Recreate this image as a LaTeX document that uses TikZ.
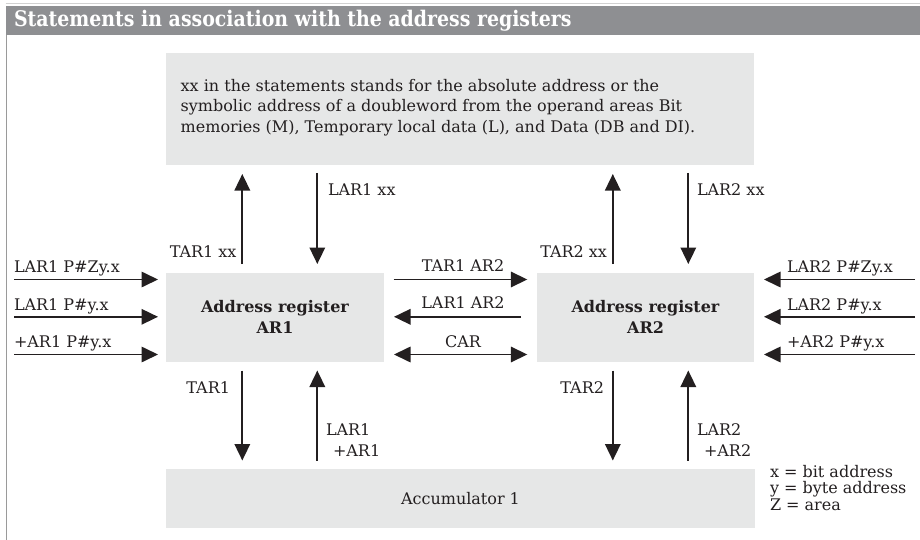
\documentclass[tikz,border=0pt]{standalone}
\usepackage{fontspec}
\setmainfont{DejaVu Serif}
\newfontfamily\titlefont[FakeStretch=0.88]{DejaVu Serif}
\usetikzlibrary{arrows.meta,calc}
\definecolor{boxgray}{HTML}{E6E7E7}
\definecolor{bargray}{HTML}{8E8F92}
\definecolor{linegray}{HTML}{9A9A9A}
\definecolor{toplinegray}{HTML}{D2D2D2}
\definecolor{ink}{HTML}{231F20}
\begin{document}
\begin{tikzpicture}[x=1pt,y=-1pt,
  every node/.style={font=\fontsize{16}{20.7}\selectfont, text=ink, inner sep=0pt, outer sep=0pt},
  regbox/.style={fill=boxgray, draw=none, inner sep=0pt},
  arr/.style={draw=ink, line width=1.7pt, -{Triangle[length=16.5pt,width=15.5pt]}},
  darr/.style={draw=ink, line width=1.7pt, {Triangle[length=16.5pt,width=15.5pt]}-{Triangle[length=16.5pt,width=15.5pt]}},
  boldtxt/.style={font=\bfseries\fontsize{16}{20.5}\selectfont, align=center}]
\useasboundingbox (0,0) rectangle (920,540);
% header
\draw[toplinegray, line width=1pt] (5.5,4) -- (920,4);
\fill[bargray] (5.5,6) rectangle (920,35);
\node[anchor=west, text=white, font=\titlefont\bfseries\fontsize{21.5}{24}\selectfont] (title) at (14,20.5) {Statements in association with the address registers};
\draw[linegray, line width=1.3pt] (6.5,35) -- (6.5,540);

% boxes
\node[regbox, minimum width=588pt, minimum height=112pt] (mem) at (460,109) {};
\node[anchor=west, align=left] (memtext) at ($(mem.west)+(14.7,-1.6)$) {xx in the statements stands for the absolute address or the\\symbolic address of a doubleword from the operand areas Bit\\memories (M), Temporary local data (L), and Data (DB and DI).};
\node[regbox, boldtxt, minimum width=218pt, minimum height=89pt] (ar1) at (275,317) {Address register\\AR1};
\node[regbox, boldtxt, minimum width=217pt, minimum height=89pt] (ar2) at (645.5,317) {Address register\\AR2};
\node[regbox, minimum width=589pt, minimum height=59pt] (acc) at (460.5,498.5) {Accumulator 1};

% column coordinates
\coordinate (xa) at (242.3,0);
\coordinate (xb) at (317.3,0);
\coordinate (xc) at (612.8,0);
\coordinate (xd) at (688.3,0);

% top vertical arrows
\draw[arr, shorten <=8.5pt, shorten >=9pt] (xa |- ar1.north) -- (xa |- mem.south);
\draw[arr, shorten <=8pt, shorten >=8.5pt] (xb |- mem.south) -- (xb |- ar1.north);
\draw[arr, shorten <=8.5pt, shorten >=9pt] (xc |- ar2.north) -- (xc |- mem.south);
\draw[arr, shorten <=8pt, shorten >=8.5pt] (xd |- mem.south) -- (xd |- ar2.north);
\node[anchor=base east] (tar1xx) at (236.5,257) {TAR1 xx};
\node[anchor=base west] (lar1xx) at (328,196) {LAR1 xx};
\node[anchor=base east] (tar2xx) at (607,257) {TAR2 xx};
\node[anchor=base west] (lar2xx) at (697,196) {LAR2 xx};

% lower vertical arrows
\draw[arr, shorten <=9pt, shorten >=8.5pt] (xa |- ar1.south) -- (xa |- acc.north);
\draw[arr, shorten <=8.5pt, shorten >=9pt] (xb |- acc.north) -- (xb |- ar1.south);
\draw[arr, shorten <=9pt, shorten >=8.5pt] (xc |- ar2.south) -- (xc |- acc.north);
\draw[arr, shorten <=8.5pt, shorten >=9pt] (xd |- acc.north) -- (xd |- ar2.south);
\node[anchor=base east] (tar1) at (230,393) {TAR1};
\node[anchor=base west] (lar1) at (326,435) {LAR1};
\node[anchor=base west] (addar1) at (333,456.5) {+AR1};
\node[anchor=base east] (tar2) at (604,393) {TAR2};
\node[anchor=base west] (lar2) at (697,435) {LAR2};
\node[anchor=base west] (addar2) at (704,456.5) {+AR2};

% row coordinates
\coordinate (l1) at (14,279.5);
\coordinate (l2) at (14,316.8);
\coordinate (l3) at (14,354.5);
\coordinate (r1) at (915,279.5);
\coordinate (r2) at (915,316.8);
\coordinate (r3) at (915,354.5);

% left inputs
\draw[arr, shorten >=8pt] (l1) -- (l1 -| ar1.west);
\draw[arr, shorten >=8pt] (l2) -- (l2 -| ar1.west);
\draw[arr, shorten >=8pt] (l3) -- (l3 -| ar1.west);
\node[anchor=base west] (in1) at (14,272.5) {LAR1 P\#Zy.x};
\node[anchor=base west] (in2) at (14,310) {LAR1 P\#y.x};
\node[anchor=base west] (in3) at (14,347.3) {+AR1 P\#y.x};

% right inputs
\draw[arr, shorten >=10pt] (r1) -- (r1 -| ar2.east);
\draw[arr, shorten >=10pt] (r2) -- (r2 -| ar2.east);
\draw[arr, shorten >=10pt] (r3) -- (r3 -| ar2.east);
\node[anchor=base west] (in4) at (787,272.5) {LAR2 P\#Zy.x};
\node[anchor=base west] (in5) at (787,310) {LAR2 P\#y.x};
\node[anchor=base west] (in6) at (787,347.3) {+AR2 P\#y.x};

% middle transfers
\draw[arr, shorten <=9.7pt, shorten >=9.7pt] (l1 -| ar1.east) -- (l1 -| ar2.west);
\draw[arr, shorten <=16pt, shorten >=10pt] (l2 -| ar2.west) -- (l2 -| ar1.east);
\draw[darr, shorten <=10pt, shorten >=9.7pt] (l3 -| ar1.east) -- (l3 -| ar2.west);
\node[anchor=base] (m1) at (463,271.5) {TAR1 AR2};
\node[anchor=base] (m2) at (463,308.5) {LAR1 AR2};
\node[anchor=base] (m3) at (463,347.3) {CAR};

% legend
\node[anchor=north west, align=left, font=\fontsize{16}{16.5}\selectfont] (legend) at (770,465) {x = bit address\\y = byte address\\Z = area};
\end{tikzpicture}
\end{document}
